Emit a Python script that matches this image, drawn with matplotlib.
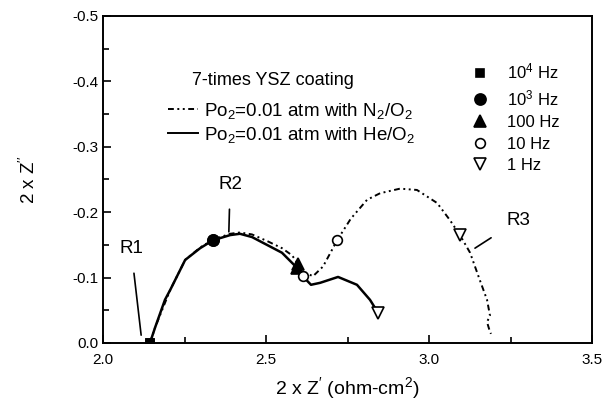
import numpy as np
import matplotlib.pyplot as plt
from matplotlib.lines import Line2D

plt.rcParams['font.family'] = ['Liberation Sans', 'DejaVu Sans']
plt.rcParams['mathtext.fontset'] = 'custom'
plt.rcParams['mathtext.rm'] = 'Liberation Sans'
plt.rcParams['mathtext.it'] = 'Liberation Sans'

# N2/O2 (dash-dot-dot curve)
x_n2 = [2.144, 2.160, 2.206, 2.252, 2.298, 2.337, 2.390, 2.420, 2.457, 2.503, 2.549,
        2.580, 2.598, 2.620, 2.644, 2.675, 2.702, 2.718, 2.760, 2.810, 2.850, 2.911,
        2.963, 3.025, 3.064, 3.095, 3.126, 3.156, 3.178, 3.187, 3.178, 3.184, 3.190]
y_n2 = [0.0, -0.024, -0.081, -0.127, -0.146, -0.158, -0.167, -0.169, -0.166, -0.156, -0.145,
        -0.134, -0.121, -0.108, -0.102, -0.117, -0.142, -0.157, -0.190, -0.219, -0.229, -0.236,
        -0.234, -0.214, -0.188, -0.165, -0.138, -0.096, -0.066, -0.042, -0.032, -0.022, -0.014]

# He/O2 (solid curve)
x_he = [2.144, 2.160, 2.190, 2.206, 2.252, 2.298, 2.337, 2.390, 2.420, 2.457, 2.503,
        2.549, 2.595, 2.613, 2.638, 2.666, 2.721, 2.779, 2.819, 2.844]
y_he = [0.0, -0.024, -0.066, -0.081, -0.127, -0.145, -0.157, -0.165, -0.167, -0.162, -0.150,
        -0.138, -0.115, -0.102, -0.089, -0.092, -0.101, -0.089, -0.066, -0.046]

# frequency markers: 10^4, 10^3, 100, 10, 1 Hz
freq_labels = ['10$^4$ Hz', '10$^3$ Hz', '100 Hz', '10 Hz', '1 Hz']
mk_x_n2 = [2.144, 2.337, 2.598, 2.718, 3.095]
mk_y_n2 = [0.0, -0.158, -0.121, -0.157, -0.165]
mk_x_he = [2.144, 2.337, 2.595, 2.613, 2.844]
mk_y_he = [0.0, -0.157, -0.115, -0.102, -0.046]

mk_style = [dict(marker='s', ms=6, mfc='black'),
            dict(marker='o', ms=8, mfc='black'),
            dict(marker='^', ms=8, mfc='black'),
            dict(marker='o', ms=7, mfc='white'),
            dict(marker='v', ms=8, mfc='white')]

fig = plt.figure(figsize=(6.07, 4.03), dpi=100)
ax = fig.add_axes([0.1697, 0.1489, 0.8056, 0.8114])

ax.plot(x_n2, y_n2, color='black', lw=1.4, dashes=(3, 1.8, 1, 1.8, 1, 1.8))
ax.plot(x_he, y_he, color='black', lw=1.8)

for i in range(5):
    ax.plot(mk_x_n2[i], mk_y_n2[i], ls='none', mec='black', mew=1.2, zorder=5, **mk_style[i])
    ax.plot(mk_x_he[i], mk_y_he[i], ls='none', mec='black', mew=1.2, zorder=5, **mk_style[i])

ax.set_xlim(2.0, 3.5)
ax.set_ylim(0.0, -0.5)
ax.set_xticks([2.0, 2.5, 3.0, 3.5])
ax.set_xticks([2.25, 2.75, 3.25], minor=True)
ax.set_yticks([0.0, -0.1, -0.2, -0.3, -0.4, -0.5])
ax.set_yticks(np.arange(-0.05, -0.5, -0.1), minor=True)
ax.xaxis.set_major_formatter(plt.FormatStrFormatter('%.1f'))
ax.yaxis.set_major_formatter(plt.FormatStrFormatter('%.1f'))
ax.tick_params(which='both', direction='in', top=False, right=False, labelsize=11, width=1.2)
ax.tick_params(which='major', length=6)
ax.tick_params(axis='x', which='major', pad=7)
ax.tick_params(which='minor', length=4)
for s in ax.spines.values():
    s.set_linewidth(1.4)

ax.set_xlabel("2 x Z$^{\\prime}$ (ohm-cm$^{2}$)", fontsize=14, labelpad=6)
ax.set_ylabel("2 x Z$^{\\prime\\prime}$", fontsize=13.5, labelpad=24)

# annotations
ax.annotate('R1', xy=(2.117, -0.012), xytext=(2.086, -0.145), fontsize=13.5,
            ha='center', va='center',
            arrowprops=dict(arrowstyle='-', color='black', lw=1.2, shrinkA=10, shrinkB=0))
ax.annotate('R2', xy=(2.386, -0.170), xytext=(2.39, -0.243), fontsize=13.5,
            ha='center', va='center',
            arrowprops=dict(arrowstyle='-', color='black', lw=1.2, shrinkA=10, shrinkB=0))
ax.annotate('R3', xy=(3.141, -0.145), xytext=(3.275, -0.188), fontsize=13.5,
            ha='center', va='center',
            arrowprops=dict(arrowstyle='-', color='black', lw=1.2, shrinkA=11, shrinkB=0))

ax.text(2.273, -0.402, '7-times YSZ coating', fontsize=13, ha='left', va='center')

# line legend
line_handles = [Line2D([], [], color='black', lw=1.4, dashes=(3, 1.8, 1, 1.8, 1, 1.8)),
                Line2D([], [], color='black', lw=1.4)]
line_labels = ['Po$_2$=0.01 atm with N$_2$/O$_2$', 'Po$_2$=0.01 atm with He/O$_2$']
leg1 = ax.legend(line_handles, line_labels, loc='upper left',
                 bbox_to_anchor=(0.133, 0.74), frameon=False, fontsize=13.5,
                 handlelength=1.6, handletextpad=0.3,
                 labelspacing=0.2, borderpad=0, borderaxespad=0)
ax.add_artist(leg1)

# frequency legend
mk_handles = [Line2D([], [], ls='none', color='black', mec='black', mew=1.2, **st) for st in mk_style]
ax.legend(mk_handles, freq_labels, loc='upper left', bbox_to_anchor=(0.754, 0.86),
          frameon=False, fontsize=12, handlelength=1.0, handletextpad=1.1,
          labelspacing=0.4, borderpad=0, borderaxespad=0)

fig.savefig('out.png', dpi=100)
